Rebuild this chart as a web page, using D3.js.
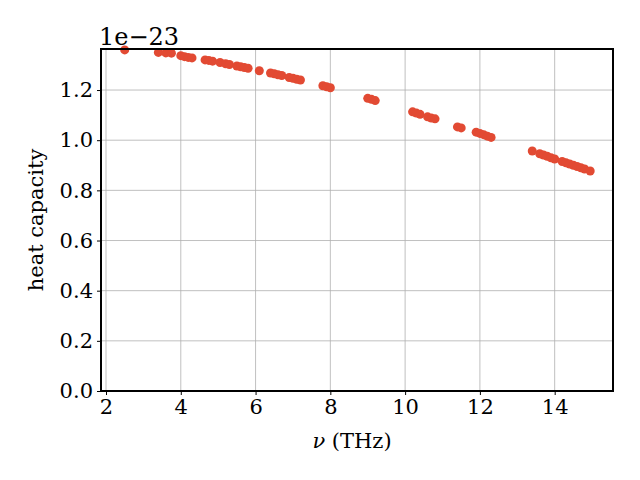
<!DOCTYPE html><html><head><script src="https://d3js.org/d3.v7.min.js"></script>
<style>body{margin:0;background:#fff}text{font-family:"DejaVu Serif",serif;}</style></head><body><svg width="640" height="480"></svg>
<script>
const nu=[2.5,3.4,3.6,3.75,4.0,4.1,4.2,4.3,4.65,4.75,4.85,5.05,5.2,5.3,5.5,5.6,5.7,5.8,6.1,6.4,6.5,6.6,6.7,6.9,7.0,7.1,7.2,7.8,7.9,8.0,9.0,9.1,9.2,10.2,10.3,10.4,10.6,10.7,10.8,11.4,11.5,11.9,12.0,12.1,12.2,12.3,13.4,13.6,13.7,13.8,13.9,14.0,14.2,14.3,14.4,14.5,14.6,14.7,14.8,14.95];
const cap=[1.36,1.35,1.348,1.347,1.337,1.333,1.33,1.328,1.32,1.318,1.315,1.31,1.305,1.302,1.296,1.293,1.29,1.287,1.277,1.268,1.265,1.261,1.258,1.25,1.247,1.243,1.24,1.217,1.213,1.209,1.167,1.163,1.158,1.113,1.108,1.103,1.093,1.088,1.085,1.053,1.049,1.032,1.027,1.022,1.016,1.011,0.957,0.946,0.941,0.936,0.93,0.925,0.915,0.91,0.905,0.9,0.895,0.89,0.885,0.877];
const xTicks=[2,4,6,8,10,12,14], yTicks=[0,0.2,0.4,0.6,0.8,1.0,1.2];
const L=101,R=613,T=49,B=391;
const x=d3.scaleLinear().domain([1.866,15.56]).range([L,R]);
const y=d3.scaleLinear().domain([0,1.3636]).range([B,T]);
const svg=d3.select("svg");
svg.append("g").selectAll("line").data(xTicks).join("line").attr("x1",d=>x(d)).attr("x2",d=>x(d)).attr("y1",T).attr("y2",B).attr("stroke","#b0b0b0").attr("stroke-width",0.8);
svg.append("g").selectAll("line").data(yTicks).join("line").attr("y1",d=>y(d)).attr("y2",d=>y(d)).attr("x1",L).attr("x2",R).attr("stroke","#b0b0b0").attr("stroke-width",0.8);
svg.append("g").selectAll("circle").data(nu).join("circle").attr("cx",d=>x(d)).attr("cy",(d,i)=>y(cap[i])).attr("r",4.5).attr("fill","#E24A33");
svg.append("rect").attr("x",L).attr("y",T).attr("width",R-L).attr("height",B-T).attr("fill","none").attr("stroke","#000").attr("stroke-width",2);
const gx=svg.append("g").attr("transform",`translate(0,${B})`).call(d3.axisBottom(x).tickValues(xTicks).tickSize(4).tickPadding(4).tickFormat(d3.format("d")));
const gy=svg.append("g").attr("transform",`translate(${L},0)`).call(d3.axisLeft(y).tickValues(yTicks).tickSize(4).tickPadding(4).tickFormat(d3.format(".1f")));
[gx,gy].forEach(g=>{g.select(".domain").remove();g.selectAll("text").attr("font-size",21).attr("font-family","DejaVu Serif").attr("fill","#000");g.selectAll("line").attr("stroke","#000");});
svg.append("text").attr("x",352).attr("y",448).attr("text-anchor","middle").attr("font-size",21).html('<tspan font-style="italic">ν</tspan> (THz)');
svg.append("text").attr("transform","translate(43,220) rotate(-90)").attr("text-anchor","middle").attr("font-size",21).text("heat capacity");
svg.append("text").attr("x",99).attr("y",45).attr("font-size",24).text("1e−23");
</script></body></html>
